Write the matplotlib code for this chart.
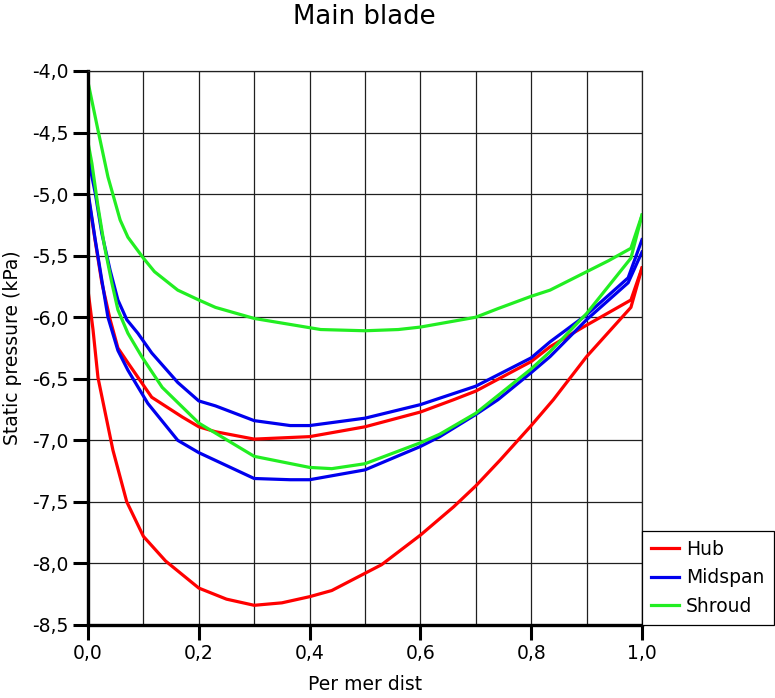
import matplotlib.pyplot as plt
from matplotlib.ticker import MultipleLocator

plt.rcParams['font.family'] = ['DejaVu Sans']

# Hub (red), two sides of the blade
hub_a_x = [0.0, 0.009, 0.018, 0.045, 0.07, 0.1, 0.14, 0.2, 0.25, 0.30, 0.35, 0.40, 0.44,
           0.50, 0.53, 0.60, 0.66, 0.70, 0.744, 0.80, 0.84, 0.90, 0.98, 1.0]
hub_a_y = [-5.78, -6.10, -6.49, -7.08, -7.50, -7.78, -7.98, -8.20, -8.29, -8.34, -8.32, -8.27, -8.22,
           -8.08, -8.01, -7.77, -7.54, -7.37, -7.16, -6.88, -6.67, -6.32, -5.92, -5.60]
hub_b_x = [0.0, 0.013, 0.025, 0.04, 0.054, 0.072, 0.115, 0.17, 0.2, 0.23, 0.30, 0.40, 0.50,
           0.60, 0.66, 0.70, 0.80, 0.834, 0.894, 0.98, 1.0]
hub_b_y = [-5.00, -5.38, -5.72, -6.02, -6.25, -6.37, -6.65, -6.81, -6.89, -6.93, -6.99, -6.97, -6.89,
           -6.77, -6.67, -6.60, -6.36, -6.24, -6.08, -5.86, -5.60]

# Midspan (blue)
mid_a_x = [0.0, 0.013, 0.025, 0.04, 0.054, 0.07, 0.09, 0.115, 0.162, 0.2, 0.23, 0.30, 0.365,
           0.40, 0.50, 0.60, 0.70, 0.80, 0.834, 0.90, 0.975, 1.0]
mid_a_y = [-4.70, -4.99, -5.32, -5.62, -5.86, -6.02, -6.13, -6.29, -6.53, -6.68, -6.72, -6.84, -6.88,
           -6.88, -6.82, -6.71, -6.56, -6.33, -6.20, -5.98, -5.68, -5.37]
mid_b_x = [0.0, 0.013, 0.025, 0.036, 0.054, 0.072, 0.108, 0.162, 0.2, 0.30, 0.365, 0.40, 0.50,
           0.60, 0.635, 0.70, 0.74, 0.80, 0.834, 0.90, 0.975, 1.0]
mid_b_y = [-4.98, -5.37, -5.70, -6.00, -6.27, -6.43, -6.70, -7.00, -7.10, -7.31, -7.32, -7.32, -7.24,
           -7.05, -6.97, -6.79, -6.67, -6.45, -6.32, -6.02, -5.72, -5.47]

# Shroud (green)
shr_a_x = [0.0, 0.018, 0.036, 0.058, 0.072, 0.1, 0.12, 0.162, 0.2, 0.23, 0.30, 0.42,
           0.50, 0.56, 0.60, 0.70, 0.74, 0.80, 0.834, 0.94, 0.98, 1.0]
shr_a_y = [-4.09, -4.48, -4.86, -5.21, -5.35, -5.52, -5.63, -5.78, -5.86, -5.92, -6.01, -6.10,
           -6.11, -6.10, -6.08, -6.00, -5.93, -5.83, -5.78, -5.54, -5.44, -5.17]
shr_b_x = [0.0, 0.007, 0.018, 0.03, 0.043, 0.054, 0.072, 0.097, 0.134, 0.2, 0.30, 0.40, 0.44,
           0.50, 0.60, 0.635, 0.70, 0.80, 0.834, 0.90, 0.98, 1.0]
shr_b_y = [-4.58, -4.75, -5.10, -5.43, -5.72, -5.94, -6.13, -6.32, -6.57, -6.86, -7.13, -7.22, -7.23,
           -7.19, -7.02, -6.95, -6.78, -6.42, -6.28, -5.97, -5.52, -5.17]

x_ticks = [0.0, 0.2, 0.4, 0.6, 0.8, 1.0]
x_labels = ['0,0', '0,2', '0,4', '0,6', '0,8', '1,0']
y_ticks = [-4.0, -4.5, -5.0, -5.5, -6.0, -6.5, -7.0, -7.5, -8.0, -8.5]
y_labels = ['-4,0', '-4,5', '-5,0', '-5,5', '-6,0', '-6,5', '-7,0', '-7,5', '-8,0', '-8,5']

red = '#ff0000'
blue = '#0000ee'
green = '#22ee22'

fig = plt.figure(figsize=(7.75, 6.98), dpi=100)
ax = fig.add_axes([88 / 775, 1 - 625 / 698, 554 / 775, 554 / 698])

lw = 2.3
ax.plot(hub_a_x, hub_a_y, color=red, lw=lw, label='Hub')
ax.plot(hub_b_x, hub_b_y, color=red, lw=lw)
ax.plot(mid_a_x, mid_a_y, color=blue, lw=lw, label='Midspan')
ax.plot(mid_b_x, mid_b_y, color=blue, lw=lw)
ax.plot(shr_a_x, shr_a_y, color=green, lw=lw, label='Shroud')
ax.plot(shr_b_x, shr_b_y, color=green, lw=lw)

ax.set_xlim(0, 1)
ax.set_ylim(-8.5, -4.0)
ax.set_xticks(x_ticks)
ax.set_xticklabels(x_labels)
ax.set_yticks(y_ticks)
ax.set_yticklabels(y_labels)
ax.xaxis.set_minor_locator(MultipleLocator(0.1))

# grid every 0.1 on x, every 0.5 on y
ax.grid(which='major', color='#202020', lw=0.9)
ax.grid(which='minor', axis='x', color='#202020', lw=0.9)
ax.set_axisbelow(True)
ax.tick_params(which='minor', length=0)
ax.tick_params(which='major', direction='out', length=11, width=2.2,
               labelsize=13.5, pad=3, color='black')

for side in ['left', 'bottom']:
    ax.spines[side].set_linewidth(2.4)
for side in ['top', 'right']:
    ax.spines[side].set_linewidth(0.9)
    ax.spines[side].set_color('#202020')

ax.set_xlabel('Per mer dist', fontsize=13.5, labelpad=8)
ax.set_ylabel('Static pressure (kPa)', fontsize=13.5, labelpad=7)
fig.text(364 / 775, 1 - 17 / 698, 'Main blade', fontsize=18.7,
         ha='center', va='center')

leg = ax.legend(loc='lower left', bbox_to_anchor=(1.0, 0.0), borderaxespad=0,
                fontsize=13.5, frameon=True, fancybox=False, framealpha=1,
                edgecolor='black', handlelength=1.45, handletextpad=0.4,
                labelspacing=0.5, borderpad=0.5)
leg.get_frame().set_linewidth(0.9)

plt.savefig('out.png', dpi=100)
